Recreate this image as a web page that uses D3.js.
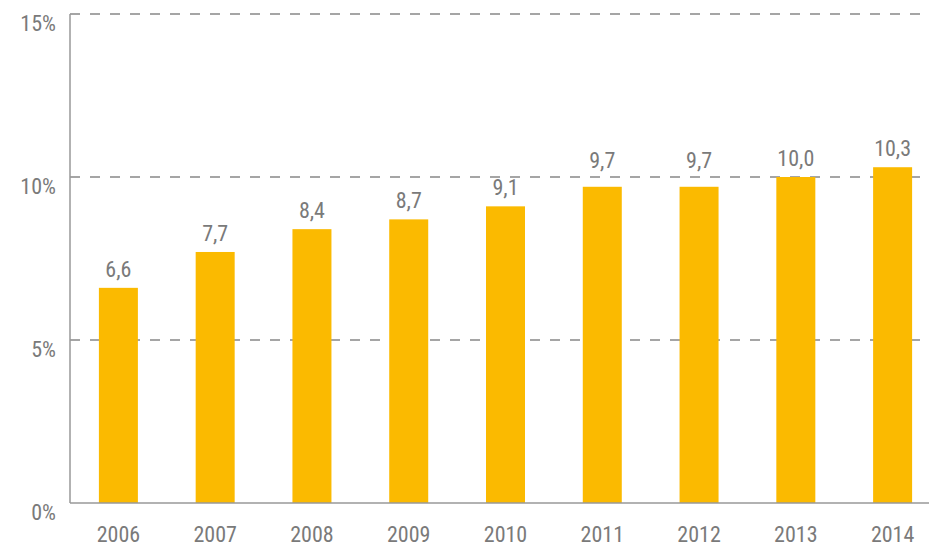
<!DOCTYPE html>
<html><head><meta charset="utf-8">
<script src="https://cdn.jsdelivr.net/npm/d3@7"></script>
<style>
body{margin:0;background:#fff;}
text{font-family:"Roboto Condensed","Liberation Sans Narrow","DejaVu Sans Condensed",sans-serif;font-stretch:condensed;fill:#7a7a7a;}
</style></head>
<body><svg id="c" width="929" height="556"></svg>
<script>
const years = ["2006","2007","2008","2009","2010","2011","2012","2013","2014"];
const values = [6.6,7.7,8.4,8.7,9.1,9.7,9.7,10.0,10.3];
const yTicks = [0,5,10,15];

(function(){
const svg = d3.select("#c");
const mLeft = 70, mRight = 941, mTop = 14, mBottom = 503;
const x = d3.scaleBand().domain(years).range([mLeft, mRight]).padding(0);
const y = d3.scaleLinear().domain([0,15]).range([mBottom, mTop]);
const barW = 39;

svg.selectAll("line.grid").data(yTicks.filter(d=>d>0)).enter().append("line")
  .attr("x1", mLeft).attr("x2", 929).attr("y1", d=>y(d)).attr("y2", d=>y(d))
  .attr("stroke", "#888").attr("stroke-width", 1.3).attr("stroke-dasharray", "10,10");

svg.selectAll("rect.bar").data(values).enter().append("rect")
  .attr("x", (d,i)=>x(years[i]) + x.bandwidth()/2 - barW/2)
  .attr("width", barW)
  .attr("y", d=>y(d)).attr("height", d=>mBottom - y(d))
  .attr("fill", "#FBBA00");

svg.append("line").attr("x1", mLeft).attr("x2", mLeft).attr("y1", mTop).attr("y2", mBottom)
  .attr("stroke", "#999").attr("stroke-width", 1.5);
svg.append("line").attr("x1", mLeft).attr("x2", 929).attr("y1", mBottom).attr("y2", mBottom)
  .attr("stroke", "#999").attr("stroke-width", 1.5);

svg.selectAll("text.yl").data(yTicks).enter().append("text")
  .attr("x", 56).attr("y", d=>y(d)+17).attr("text-anchor","end")
  .attr("font-size", 22).text(d=>d+"%");

svg.selectAll("text.xl").data(years).enter().append("text")
  .attr("x", d=>x(d)+x.bandwidth()/2).attr("y", 542).attr("text-anchor","middle")
  .attr("font-size", 22).text(d=>d);

function labelY(v){
  let b = y(v) - 11;
  yTicks.forEach(t => { const g = y(t); if (g >= b - 16 && g <= b + 3) b = g - 9; });
  return b;
}
svg.selectAll("text.vl").data(values).enter().append("text")
  .attr("x", (d,i)=>x(years[i])+x.bandwidth()/2).attr("y", d=>labelY(d)).attr("text-anchor","middle")
  .attr("font-size", 22).text(d=>d.toFixed(1).replace(".",","));
})();
</script></body></html>
